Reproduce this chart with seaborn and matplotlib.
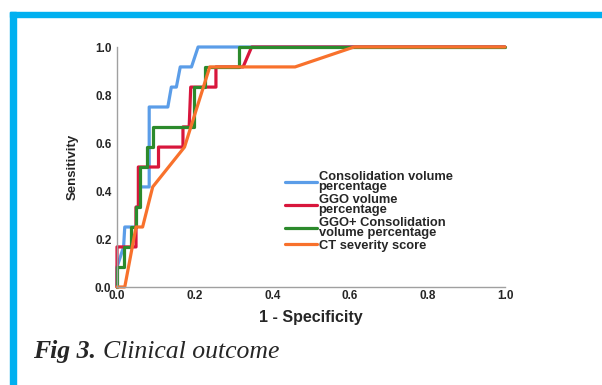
import matplotlib
matplotlib.use("Agg")
import matplotlib.pyplot as plt
import seaborn as sns
import pandas as pd
from matplotlib.patches import Rectangle

# ROC curve vertices (1 - specificity, sensitivity)
consolidation_fpr = [0, 0, 0.017, 0.02, 0.05, 0.05, 0.06, 0.06, 0.083, 0.083, 0.131, 0.14, 0.153, 0.163, 0.192, 0.209, 1.0]
consolidation_tpr = [0, 0.083, 0.167, 0.25, 0.25, 0.333, 0.333, 0.417, 0.417, 0.75, 0.75, 0.833, 0.833, 0.917, 0.917, 1.0, 1.0]

ggo_fpr = [0, 0, 0.049, 0.049, 0.055, 0.055, 0.107, 0.107, 0.17, 0.17, 0.186, 0.19, 0.255, 0.255, 0.325, 0.347, 1.0]
ggo_tpr = [0, 0.167, 0.167, 0.333, 0.333, 0.5, 0.5, 0.583, 0.583, 0.667, 0.667, 0.833, 0.833, 0.917, 0.917, 1.0, 1.0]

combined_fpr = [0, 0, 0.018, 0.018, 0.035, 0.035, 0.05, 0.05, 0.06, 0.06, 0.078, 0.078, 0.092, 0.092, 0.198, 0.198, 0.226, 0.226, 0.314, 0.314, 1.0]
combined_tpr = [0, 0.083, 0.083, 0.167, 0.167, 0.25, 0.25, 0.333, 0.333, 0.5, 0.5, 0.583, 0.583, 0.667, 0.667, 0.833, 0.833, 0.917, 0.917, 1.0, 1.0]

ct_fpr = [0, 0.02, 0.049, 0.066, 0.092, 0.174, 0.239, 0.459, 0.611, 1.0]
ct_tpr = [0, 0, 0.25, 0.25, 0.417, 0.583, 0.917, 0.917, 1.0, 1.0]

labels = [
    "Consolidation volume\npercentage",
    "GGO volume\npercentage",
    "GGO+ Consolidation\nvolume percentage",
    "CT severity score",
]
colors = ["#5b9de8", "#d8163c", "#2c8a2c", "#f8712c"]
ticks = [0.0, 0.2, 0.4, 0.6, 0.8, 1.0]

curves = [
    (consolidation_fpr, consolidation_tpr),
    (ggo_fpr, ggo_tpr),
    (combined_fpr, combined_tpr),
    (ct_fpr, ct_tpr),
]

sns.set_style("white")
plt.rcParams["font.family"] = ["Liberation Sans", "DejaVu Sans"]

fig = plt.figure(figsize=(6.02, 3.85), dpi=100)
ax = fig.add_axes([117 / 602, 98 / 385, 388 / 602, 240 / 385])

for (fx, ty), lab, col in zip(curves, labels, colors):
    df = pd.DataFrame({"fpr": fx, "tpr": ty})
    sns.lineplot(data=df, x="fpr", y="tpr", sort=False, estimator=None,
                 color=col, linewidth=2.3, label=lab, ax=ax, clip_on=False)

ax.set_xlim(0, 1)
ax.set_ylim(0, 1)
ax.set_xticks(ticks)
ax.set_yticks(ticks)
ax.set_xticklabels([f"{t:.1f}" for t in ticks], fontsize=8.5, fontweight="bold")
ax.set_yticklabels([f"{t:.1f}" for t in ticks], fontsize=8.5, fontweight="bold")
ax.tick_params(length=0, pad=4)
ax.tick_params(axis="x", pad=2)
for s in ["top", "right"]:
    ax.spines[s].set_visible(False)
for s in ["left", "bottom"]:
    ax.spines[s].set_color("#a0a0a0")
    ax.spines[s].set_linewidth(1)

ax.set_xlabel("1 - Specificity", fontsize=11.5, fontweight="bold", labelpad=6)
ax.set_ylabel("Sensitivity", fontsize=9.5, fontweight="bold", labelpad=12)

leg = ax.legend(loc="upper left", bbox_to_anchor=(285 / 602, 1 - 171 / 385),
                bbox_transform=fig.transFigure, frameon=False,
                prop={"size": 9.3, "weight": "bold"}, handlelength=2.5,
                handletextpad=0.1, labelspacing=0.05, borderpad=0,
                borderaxespad=0)
for t in leg.get_texts():
    t.set_linespacing(0.8)

# page border
fig.patches.append(Rectangle((10 / 602, 0), 6 / 602, 1 - 12 / 385,
                             transform=fig.transFigure, color="#00b0f0", zorder=0))
fig.patches.append(Rectangle((10 / 602, 1 - 17 / 385), 1, 5 / 385,
                             transform=fig.transFigure, color="#00b0f0", zorder=0))

serif = ["Liberation Serif", "DejaVu Serif"]
t1 = fig.text(33 / 602, 1 - 358 / 385, "Fig 3.", fontsize=18.5, fontweight="bold",
              style="italic", family=serif)
fig.canvas.draw()
bb = t1.get_window_extent()
fig.text((bb.x1 + 7) / 602, 1 - 358 / 385, "Clinical outcome", fontsize=18.5,
         style="italic", family=serif)

fig.savefig("out.png", dpi=100)
